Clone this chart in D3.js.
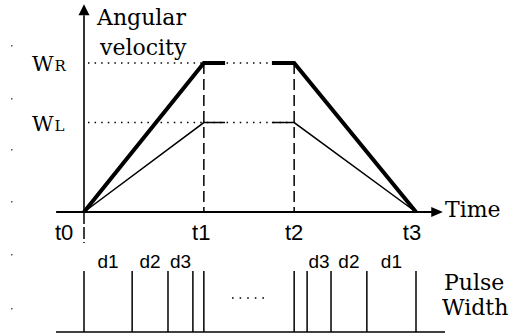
<!DOCTYPE html>
<html>
<head>
<meta charset="utf-8">
<script src="https://cdn.jsdelivr.net/npm/d3@7"></script>
<style>
body { margin: 0; background: #fff; }
svg { display: block; }
</style>
</head>
<body>
<div id="chart"></div>
<script>
// time marks on the axis
let tTimes = [0, 3.61, 6.33, 10];
let tLabels = ["t0", "t1", "t2", "t3"];
// angular velocity levels (right / left wheel)
let levelNames = ["R", "L"];
let levelValues = [1.0, 0.6];
// trapezoid speed profiles
let profTimes = [0, 3.61, 4.25, 5.66, 6.33, 10];
let profR = [0, 1, 1, 1, 1, 0];
let profL = [0, 0.6, 0.6, 0.6, 0.6, 0];
// pulse edges and the widths between them
let pulseTimes = [0, 1.45, 2.53, 3.28, 3.61, 6.33, 6.72, 7.44, 8.52, 10];
let pulseLabels = ["d1", "d2", "d3", "d3", "d2", "d1"];
let pulseGaps = [0, 1, 2, 6, 7, 8];

let svgWidth = 510;
let svgHeight = 333;
let serif = "'DejaVu Serif', serif";
let sans = "'Liberation Sans', Arial, sans-serif";

let x = d3.scaleLinear().domain([0, 10]).range([84, 416]);
let y = d3.scaleLinear().domain([0, 1]).range([212, 63]);
let pulseBase = 332;
let pulseTop = 271;

let svg = d3.select('#chart')
            .append('svg')
            .attr('width', svgWidth)
            .attr('height', svgHeight);

// scan specks on left edge
[45, 98, 149, 201, 254, 308].forEach(function(py){
    svg.append('rect').attr('x', 11).attr('y', py).attr('width', 1.5).attr('height', 1.5).attr('fill', '#555');
});

// dotted guides for the levels
levelValues.forEach(function(v){
    svg.append('line')
        .attr('x1', x(0.12)).attr('x2', x(6.2))
        .attr('y1', y(v)).attr('y2', y(v))
        .attr('stroke', '#000').attr('stroke-width', 1.5)
        .attr('stroke-dasharray', '1.5,5.1');
});

// dashed verticals at t1, t2
[1, 2].forEach(function(i){
    svg.append('line')
        .attr('x1', x(tTimes[i])).attr('x2', x(tTimes[i]))
        .attr('y1', y(1)).attr('y2', y(0))
        .attr('stroke', '#000').attr('stroke-width', 1.5)
        .attr('stroke-dasharray', '11,5');
});

// t0 dashed below axis
svg.append('line')
    .attr('x1', x(0)).attr('x2', x(0))
    .attr('y1', y(0)).attr('y2', 243)
    .attr('stroke', '#000').attr('stroke-width', 1.5)
    .attr('stroke-dasharray', '12,3');

// axes
svg.append('line')
    .attr('x1', x(0)).attr('x2', x(0))
    .attr('y1', y(0)).attr('y2', y(1.32))
    .attr('stroke', '#000').attr('stroke-width', 1.6);
svg.append('path')
    .attr('d', `M${x(0)},${y(1.395)} L${x(0) - 5.5},${y(1.32)} L${x(0) + 5.5},${y(1.32)} Z`)
    .attr('fill', '#000');

svg.append('line')
    .attr('x1', x(-0.84)).attr('x2', x(10.5))
    .attr('y1', y(0)).attr('y2', y(0))
    .attr('stroke', '#000').attr('stroke-width', 2);
svg.append('path')
    .attr('d', `M${x(10.81)},${y(0)} L${x(10.46)},${y(0) - 5} L${x(10.46)},${y(0) + 5} Z`)
    .attr('fill', '#000');

// speed profiles, drawn in two pieces around the plateau gap
let line = d3.line();
function drawProfile(vals, w){
    [[0, 3], [3, 6]].forEach(function(r){
        let pts = [];
        for (let i = r[0]; i < r[1]; i++) pts.push([x(profTimes[i]), y(vals[i])]);
        svg.append('path')
            .attr('d', line(pts))
            .attr('fill', 'none')
            .attr('stroke', '#000')
            .attr('stroke-width', w)
            .attr('stroke-linejoin', 'miter');
    });
}
drawProfile(profL, 1.5);
drawProfile(profR, 4);

// labels
svg.append('text').attr('x', 97).attr('y', 25)
    .attr('font-family', serif).attr('font-size', 22).text('Angular');
svg.append('text').attr('x', 100).attr('y', 55)
    .attr('font-family', serif).attr('font-size', 22).text('velocity');

levelValues.forEach(function(v, i){
    let t = svg.append('text')
        .attr('x', 32).attr('y', y(v) + 8)
        .attr('font-family', serif);
    t.append('tspan').attr('font-size', 21).text('W');
    t.append('tspan').attr('font-size', 15).attr('dx', 1).text(levelNames[i]);
});

svg.append('text').attr('x', 445).attr('y', 217)
    .attr('font-family', serif).attr('font-size', 22).text('Time');

let tx = [-0.6, -0.08, 0, -0.12];
tLabels.forEach(function(lab, i){
    svg.append('text')
        .attr('x', x(tTimes[i] + tx[i])).attr('y', 240)
        .attr('text-anchor', 'middle')
        .attr('font-family', sans).attr('font-size', 22)
        .text(lab);
});

// pulse train
svg.append('line')
    .attr('x1', 56).attr('x2', 445)
    .attr('y1', pulseBase).attr('y2', pulseBase)
    .attr('stroke', '#000').attr('stroke-width', 1.5);

svg.selectAll('.pulse')
    .data(pulseTimes)
    .enter().append('line')
    .attr('class', 'pulse')
    .attr('x1', d => x(d)).attr('x2', d => x(d))
    .attr('y1', pulseTop).attr('y2', pulseBase)
    .attr('stroke', '#000').attr('stroke-width', 1.5);

pulseLabels.forEach(function(lab, i){
    let g = pulseGaps[i];
    svg.append('text')
        .attr('x', x((pulseTimes[g] + pulseTimes[g + 1]) / 2))
        .attr('y', 268)
        .attr('text-anchor', 'middle')
        .attr('font-family', sans).attr('font-size', 19)
        .text(lab);
});

// ellipsis between the groups
svg.append('line')
    .attr('x1', 232).attr('x2', 264)
    .attr('y1', 298).attr('y2', 298)
    .attr('stroke', '#000').attr('stroke-width', 1.6)
    .attr('stroke-dasharray', '1.6,6');

svg.append('text').attr('x', 444).attr('y', 290)
    .attr('font-family', serif).attr('font-size', 22).text('Pulse');
svg.append('text').attr('x', 442).attr('y', 315)
    .attr('font-family', serif).attr('font-size', 22).text('Width');
</script>
</body>
</html>
